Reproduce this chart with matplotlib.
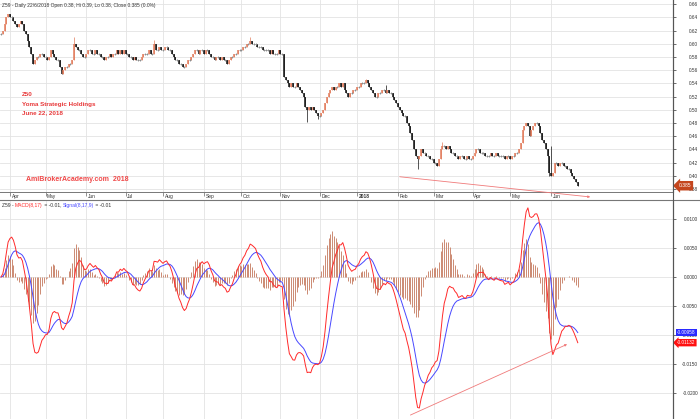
import matplotlib
matplotlib.use("Agg")
import matplotlib.pyplot as plt
from matplotlib.lines import Line2D
from matplotlib.ticker import FuncFormatter
import numpy as np
import pandas as pd

plt.rcParams['font.family'] = ['Liberation Sans', 'DejaVu Sans']

# trading days on the chart (27 Mar 2017 - 22 Jun 2018)
dates = pd.bdate_range("2017-03-27", "2018-06-22")

# daily close of Z59, in thousandths of a dollar, one row per week
closes_k = [
    615, 620, 630, 640, 645,   640, 640, 635, 630, 625,
    630, 635, 630, 620, 615,   605, 595, 585, 570, 575,
    580, 580, 585, 585, 580,   580, 575, 580, 590, 585,
    580, 575, 575, 565, 555,   560, 565, 565, 570, 570,
    575, 600, 595, 590, 590,   585, 580, 580, 585, 590,
    590, 585, 585, 590, 585,   585, 580, 580, 575, 580,
    580, 585, 580, 585, 585,   590, 585, 590, 585, 590,
    585, 585, 580, 580, 575,   580, 575, 575, 575, 580,
    585, 585, 585, 590, 585,   585, 600, 590, 590, 595,
    590, 590, 595, 595, 590,   590, 585, 580, 575, 575,
    570, 570, 565, 565, 570,   575, 575, 580, 585, 590,
    590, 585, 590, 590, 585,   590, 590, 585, 580, 580,
    575, 580, 580, 575, 580,   575, 575, 570, 575, 580,
    580, 585, 585, 590, 590,   590, 595, 595, 600, 600,
    605, 600, 600, 600, 595,   595, 595, 590, 590, 590,
    590, 585, 590, 585, 585,   585, 590, 585, 585, 550,
    545, 540, 535, 540, 535,   535, 540, 535, 530, 525,
    520, 505, 500, 505, 500,   505, 500, 495, 490, 490,
    495, 500, 510, 520, 525,   530, 535, 530, 535, 535,
    540, 535, 540, 530, 525,   520, 525, 525, 530, 530,
    535, 535, 540, 540, 540,   545, 540, 535, 530, 525,
    520, 520, 525, 525, 530,   530, 525, 530, 525, 525,
    520, 515, 510, 505, 500,   495, 490, 490, 480, 475,
    465, 455, 440, 430, 425,   430, 440, 435, 435, 430,
    430, 425, 425, 420, 420,   415, 425, 440, 445, 445,
    440, 445, 440, 435, 435,   430, 430, 425, 430, 430,
    425, 425, 430, 425, 425,   430, 435, 440, 440, 435,
    435, 435, 430, 430, 430,   435, 430, 430, 435, 430,
    430, 430, 430, 425, 430,   430, 425, 430, 430, 435,
    435, 440, 450, 470, 475,   480, 475, 460, 470, 475,
    480, 480, 475, 465, 455,   450, 440, 430, 405, 400,
    405, 420, 420, 415, 420,   420, 415, 415, 410, 410,
    405, 400, 395, 390, 385,
]

# long wicks visible on the chart: bar -> (high, low)
wicks = {41: (0.610, None), 86: (0.606, None), 140: (0.610, None),
         172: (None, 0.482), 178: (None, 0.486), 205: (0.547, None),
         216: (0.537, None), 234: (None, 0.410), 248: (0.451, None),
         308: (None, 0.400), 309: (0.445, None)}

# hand drawn trend lines: (bar, value) start -> end
price_trend = [(224, 0.3986), (331, 0.3680)]
macd_trend = [(230, -0.0238), (318, -0.0116)]

price_ticks = [0.38, 0.40, 0.42, 0.44, 0.46, 0.48, 0.50, 0.52, 0.54, 0.56, 0.58, 0.60, 0.62, 0.64, 0.66]
macd_ticks = [-0.02, -0.015, -0.01, -0.005, 0.0, 0.005, 0.01]

# ---- data prep
close = np.array(closes_k) / 1000.0
opn = np.r_[close[0], close[:-1]]
high = np.maximum(opn, close)
low = np.minimum(opn, close)
for k, (h, l) in wicks.items():
    if h is not None:
        high[k] = h
    if l is not None:
        low[k] = l
x = np.arange(len(close))

s = pd.Series(close)
macd = (s.ewm(span=8, adjust=False).mean() - s.ewm(span=17, adjust=False).mean()).values
signal = pd.Series(macd).ewm(span=9, adjust=False).mean().values
hist = macd - signal

# month ticks = first trading day of each month
months = pd.Series(dates.month)
month_idx = [i for i in range(1, len(dates)) if months[i] != months[i - 1]]
month_lbl = [("2018" if dates[i].month == 1 else dates[i].strftime("%b")) for i in month_idx]

# ---- figure
W, H = 700, 419
fig = plt.figure(figsize=(7.0, 4.19), dpi=100)
ax1 = fig.add_axes([0, 1 - 192 / H, 673 / W, 192 / H])
ax2 = fig.add_axes([0, 0, 673 / W, 218 / H])
xlim = (-0.56, 377.5)

grid_c = '#e3e3e3'
for ax in (ax1, ax2):
    ax.set_xlim(*xlim)
    ax.set_xticks(month_idx)
    ax.grid(True, color=grid_c, lw=0.6)
    ax.set_axisbelow(True)
    ax.yaxis.tick_right()
    for sp in ('left', 'top'):
        ax.spines[sp].set_visible(False)
    ax.spines['right'].set_color('#555555')
    ax.spines['right'].set_linewidth(0.8)
    ax.tick_params(axis='y', length=2, width=0.5, pad=16, labelsize=3.4,
                   colors='#333333')

# price pane
ax1.set_ylim(0.3755, 0.6664)
ax1.set_yticks(price_ticks)
ax1.yaxis.set_major_formatter(FuncFormatter(lambda v, p: f"{v:.2f}"))
ax1.spines['bottom'].set_color('#777777')
ax1.spines['bottom'].set_linewidth(0.7)
ax1.tick_params(axis='x', length=3, width=0.5, direction='out', color='#666666',
                labelbottom=False)

up = close > opn
dn = close < opn
eq = ~(up | dn)
bar_col = np.where(up, '#e27b5b', np.where(dn, '#111111', '#8c8c8c'))
ax1.vlines(x, low, high, colors=bar_col, lw=0.5)
ax1.vlines(x[~eq], opn[~eq], close[~eq], colors=bar_col[~eq], lw=1.1)
ax1.plot(x[eq], close[eq], '+', ms=2.0, mew=0.6, color='#8c8c8c', ls='none')

for i, lbl in zip(month_idx, month_lbl):
    ax1.text(i + 0.9, -0.021, lbl, transform=ax1.get_xaxis_transform(),
             fontsize=3.5, color='#333333', ha='left', va='center',
             fontweight='bold' if lbl == '2018' else 'normal')

ax1.annotate('', xy=price_trend[1], xytext=price_trend[0],
             arrowprops=dict(arrowstyle='-|>', color='#f07a7a', lw=0.6,
                             mutation_scale=3, shrinkA=0, shrinkB=0),
             annotation_clip=False)

ax1.text(1.008, close[-1], f"{close[-1]:.3f}", transform=ax1.get_yaxis_transform(),
         fontsize=3.6, color='white', ha='left', va='center',
         bbox=dict(boxstyle='larrow,pad=0.45', fc='#c4461e', ec='none'))

# macd pane
ax2.set_ylim(-0.02448, 0.0131)
ax2.set_yticks(macd_ticks)
ax2.yaxis.set_major_formatter(FuncFormatter(lambda v, p: "0.0000" if abs(v) < 1e-9 else f"{v:.4f}"))
ax2.tick_params(axis='x', length=0, labelbottom=False)
ax2.spines['bottom'].set_visible(False)
ax2.spines['top'].set_visible(False)

ax2.vlines(x, 0, hist, colors='#cc8a72', lw=0.7)
ax2.plot(x, signal, color='#4848ff', lw=0.7)
ax2.plot(x, macd, color='#ff2a2a', lw=0.7)
ax2.annotate('', xy=macd_trend[1], xytext=macd_trend[0],
             arrowprops=dict(arrowstyle='-|>', color='#f07a7a', lw=0.6,
                             mutation_scale=3, shrinkA=0, shrinkB=0),
             annotation_clip=False)

ax2.text(1.006, signal[-1], f"{signal[-1]:.5f}", transform=ax2.get_yaxis_transform(),
         fontsize=3.4, color='white', ha='left', va='center', zorder=5,
         bbox=dict(boxstyle='square,pad=0.25', fc='#2a2aff', ec='none'))
ax2.text(1.006, macd[-1], f"{macd[-1]:.5f}", transform=ax2.get_yaxis_transform(),
         fontsize=3.4, color='white', ha='left', va='center', zorder=5,
         bbox=dict(boxstyle='larrow,pad=0.25', fc='#ff1010', ec='none'))

# right aligned axis labels ending near the right edge
for ax in (ax1, ax2):
    plt.setp(ax.get_yticklabels(), ha='right')

# separators
fig.add_artist(Line2D([0, 1], [1 - 200.5 / H] * 2, color='#777777', lw=0.8))
fig.add_artist(Line2D([673 / W] * 2, [0, 1], color='#555555', lw=0.8))

# texts
fig.text(2 / W, 1 - 5 / H,
         "Z59 - Daily 22/6/2018 Open 0.38, Hi 0.39, Lo 0.38, Close 0.385 (0.0%)",
         fontsize=3.55, color='#333333', va='center', ha='left')
red = '#e8393a'
for k, line in enumerate(["Z50", "Yoma Strategic Holdings", "June 22, 2018"]):
    fig.text(22 / W, 1 - (95 + 9 * k) / H, line, fontsize=4.5, color=red,
             fontweight='bold', va='center', ha='left')
fig.text(26 / W, 1 - 179 / H, "AmiBrokerAcademy.com  2018", fontsize=5,
         color='#f04848', fontweight='bold', va='center', ha='left')

# macd title in pieces
r = fig.canvas.get_renderer()
parts = [("Z59 - ", '#333333'), ("MACD(8,17)", '#ff2a2a'),
         (f" = {macd[-1]:.2f}, ", '#333333'), ("Signal(8,17,9)", '#4848ff'),
         (f" = {signal[-1]:.2f}", '#333333')]
px = 2.0
for txt, col in parts:
    t = fig.text(px / W, 1 - 205 / H, txt, fontsize=3.6, color=col, va='center', ha='left')
    bb = t.get_window_extent(renderer=r)
    px = bb.x1

fig.savefig('out.png', dpi=100)
